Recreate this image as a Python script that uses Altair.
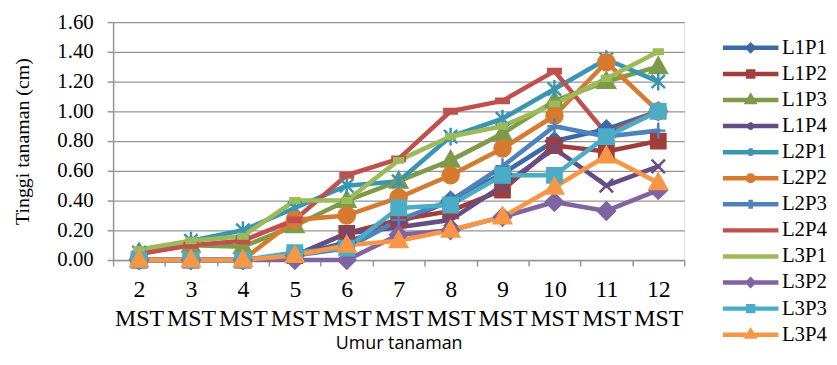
import altair as alt
import pandas as pd

# ---- data ----
weeks = ["2", "3", "4", "5", "6", "7", "8", "9", "10", "11", "12"]
week_num = [2, 3, 4, 5, 6, 7, 8, 9, 10, 11, 12]
series = ["L1P1", "L1P2", "L1P3", "L1P4", "L2P1", "L2P2",
          "L2P3", "L2P4", "L3P1", "L3P2", "L3P3", "L3P4"]

L1P1 = [0.00, 0.00, 0.00, 0.03, 0.12, 0.25, 0.40, 0.58, 0.80, 0.88, 1.00]
L1P2 = [0.00, 0.00, 0.00, 0.03, 0.18, 0.27, 0.33, 0.47, 0.77, 0.73, 0.80]
L1P3 = [0.05, 0.10, 0.09, 0.23, 0.40, 0.53, 0.67, 0.85, 1.07, 1.20, 1.30]
L1P4 = [0.00, 0.00, 0.00, 0.03, 0.18, 0.22, 0.27, 0.50, 0.75, 0.50, 0.63]
L2P1 = [0.05, 0.13, 0.20, 0.35, 0.50, 0.53, 0.83, 0.95, 1.15, 1.35, 1.20]
L2P2 = [0.00, 0.00, 0.00, 0.27, 0.30, 0.42, 0.57, 0.75, 0.97, 1.33, 1.00]
L2P3 = [0.00, 0.00, 0.00, 0.03, 0.08, 0.27, 0.40, 0.63, 0.90, 0.83, 0.87]
L2P4 = [0.04, 0.10, 0.13, 0.27, 0.57, 0.68, 1.00, 1.07, 1.27, 0.85, 1.00]
L3P1 = [0.07, 0.13, 0.16, 0.40, 0.40, 0.67, 0.83, 0.90, 1.05, 1.22, 1.40]
L3P2 = [0.00, 0.00, 0.00, 0.00, 0.00, 0.17, 0.20, 0.29, 0.39, 0.33, 0.47]
L3P3 = [0.00, 0.00, 0.00, 0.05, 0.08, 0.35, 0.37, 0.57, 0.57, 0.83, 1.00]
L3P4 = [0.00, 0.00, 0.00, 0.03, 0.10, 0.13, 0.20, 0.29, 0.49, 0.70, 0.52]

y_ticks = [0.0, 0.2, 0.4, 0.6, 0.8, 1.0, 1.2, 1.4, 1.6]

# ---- styles ----
colors = ["#3C6AA7", "#A03E3B", "#7F9A48", "#654D86", "#3A96B0", "#D67A30",
          "#4F81BD", "#C0504D", "#9BBB59", "#8064A2", "#4BACC6", "#F79646"]

CIRC = "A{r},{r} 0 1,0 {r},0A{r},{r} 0 1,0 -{r},0Z"
chart_markers = [
    "M0,-0.95L0.95,0L0,0.95L-0.95,0Z",                       # diamond
    "M-0.8,-0.8H0.8V0.8H-0.8Z",                              # square
    "M0,-1L0.95,0.7L-0.95,0.7Z",                             # triangle
    "M-0.75,-0.75L0.75,0.75M-0.75,0.75L0.75,-0.75",          # x
    "M-0.75,-0.75L0.75,0.75M-0.75,0.75L0.75,-0.75M0,-1V1",   # star
    "M-0.9,0" + CIRC.format(r=0.9),                          # circle
    "M-0.8,0H0.8M0,-0.9V0.9",                                # plus
    "M-0.7,-0.25H0.7V0.25H-0.7Z",                            # dash
    "M-0.5,-0.25H0.5V0.25H-0.5Z",                            # short dash
    "M0,-0.95L0.95,0L0,0.95L-0.95,0Z",                       # diamond
    "M-0.8,-0.8H0.8V0.8H-0.8Z",                              # square
    "M0,-1L0.95,0.7L-0.95,0.7Z",                             # triangle
]
LN = "M-1,0H1"
legend_markers = [
    LN + "M0,-0.1L0.1,0L0,0.1L-0.1,0Z",
    LN + "M-0.09,-0.09H0.09V0.09H-0.09Z",
    LN + "M0,-0.12L0.11,0.07L-0.11,0.07Z",
    LN + "M-0.08,-0.1L0.08,0.1M-0.08,0.1L0.08,-0.1",
    LN + "M-0.08,-0.1L0.08,0.1M-0.08,0.1L0.08,-0.1M0,-0.13V0.13",
    LN + "M-0.1,0" + CIRC.format(r=0.1),
    LN + "M0,-0.16V0.16",
    LN,
    LN,
    LN + "M0,-0.1L0.1,0L0,0.1L-0.1,0Z",
    LN + "M-0.09,-0.09H0.09V0.09H-0.09Z",
    LN + "M0,-0.12L0.11,0.07L-0.11,0.07Z",
]

values = {"L1P1": L1P1, "L1P2": L1P2, "L1P3": L1P3, "L1P4": L1P4,
          "L2P1": L2P1, "L2P2": L2P2, "L2P3": L2P3, "L2P4": L2P4,
          "L3P1": L3P1, "L3P2": L3P2, "L3P3": L3P3, "L3P4": L3P4}

cats = [w + " MST" for w in weeks]
rows = []
for i, s in enumerate(series):
    for c, n, v in zip(cats, week_num, values[s]):
        rows.append({"umur": c, "wk": n, "series": s, "tinggi": v, "idx": i,
                     "col": colors[i], "mk": chart_markers[i]})
df = pd.DataFrame(rows)

GRAY = "#959595"
SERIF = "Liberation Serif"

x_enc = alt.X("umur:N", sort=cats,
              scale=alt.Scale(type="band", paddingInner=0, paddingOuter=0),
              axis=alt.Axis(title="Umur tanaman", labelExpr="split(datum.label, ' ')",
                            labelAngle=0, tickBand="extent", tickSize=6, tickColor=GRAY,
                            domainColor=GRAY, domainWidth=1.5, tickWidth=1.5,
                            labelFont=SERIF, labelFontSize=24, labelColor="black",
                            labelLineHeight=29, labelPadding=12, labelBaseline="top",
                            grid=False,
                            titleFont="Open Sans", titleFontSize=18, titleFontWeight="normal",
                            titleColor="black", titleX=288, titleY=89,
                            titleBaseline="alphabetic"))
y_enc = alt.Y("tinggi:Q",
              scale=alt.Scale(domain=[0, 1.6], nice=False),
              axis=alt.Axis(values=y_ticks, format=".2f", title="Tinggi tanaman (cm)",
                            titleFont=SERIF, titleFontSize=20, titleFontWeight="normal",
                            titleColor="black", titleX=-91, titleY=120,
                            titleBaseline="middle", titleAlign="center",
                            labelFont=SERIF, labelFontSize=21, labelColor="black",
                            labelPadding=14, tickSize=6, tickColor=GRAY, tickWidth=1.5,
                            domainColor=GRAY, domainWidth=1.5,
                            gridColor=GRAY, gridWidth=1.3))

lines = alt.Chart(df).mark_line(strokeWidth=4.6, strokeJoin="round", strokeCap="round").encode(
    x=x_enc, y=y_enc,
    stroke=alt.Stroke("col:N", scale=None),
    detail="series:N",
    order=alt.Order("wk:Q"),
)

points = alt.Chart(df).mark_point(opacity=1, size=324, strokeWidth=2.5).encode(
    x=x_enc, y=y_enc,
    shape=alt.Shape("mk:N", scale=None),
    fill=alt.Fill("col:N", scale=None),
    stroke=alt.Stroke("col:N", scale=None),
    order=alt.Order("idx:Q"),
)

leg = alt.Legend(title=None, orient="none", legendX=612.5, legendY=14,
                 symbolSize=3136, symbolStrokeWidth=4.5, symbolOpacity=1,
                 clipHeight=24, rowPadding=2.3, padding=0,
                 labelFont=SERIF, labelFontSize=21, labelColor="black", labelOffset=1)

legend_layer = alt.Chart(df).mark_point(opacity=0, strokeWidth=4.5).encode(
    x=x_enc, y=y_enc,
    shape=alt.Shape("series:N", scale=alt.Scale(domain=series, range=legend_markers), legend=leg),
    fill=alt.Fill("series:N", scale=alt.Scale(domain=series, range=colors), legend=leg),
    stroke=alt.Stroke("series:N", scale=alt.Scale(domain=series, range=colors), legend=leg),
)

chart = alt.layer(lines, points, legend_layer).properties(
    width=576, height=240,
    autosize=alt.AutoSizeParams(type="none"),
    padding={"left": 106, "top": 12.7, "right": 146, "bottom": 96},
).configure_view(stroke=None).configure(background="white").configure_axis(
    labelFont=SERIF, titleFont=SERIF
).configure_legend(labelFont=SERIF)

chart.save("out.html", embed_options={"renderer": "svg", "actions": False})
